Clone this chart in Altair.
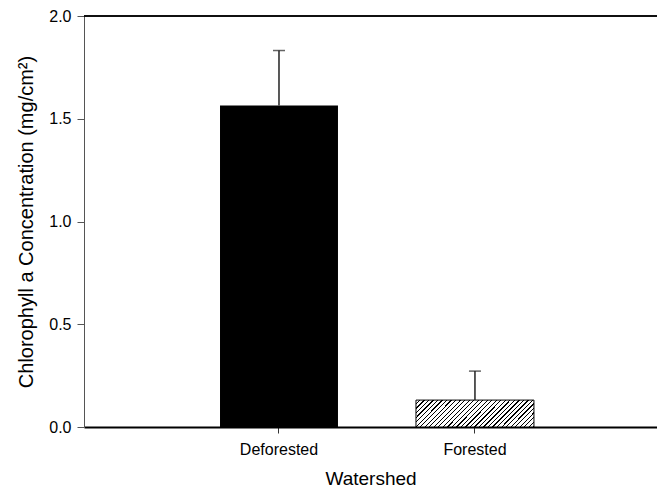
import altair as alt
import pandas as pd

categories = ["Deforested", "Forested"]
means = [1.565, 0.131]
errors = [0.267, 0.141]
y_ticks = [0.0, 0.5, 1.0, 1.5, 2.0]

df = pd.DataFrame({"Watershed": categories, "mean": means, "err": errors})
df["top"] = df["mean"] + df["err"]

# diagonal hatch for the Forested bar (style only)
N = 32
black_frac = 0.28
stops = []
for i in range(N):
    a = i / N
    b = (i + 1 - black_frac) / N
    c = (i + 1) / N
    stops += [
        alt.GradientStop(offset=a, color="white"),
        alt.GradientStop(offset=b, color="white"),
        alt.GradientStop(offset=b, color="black"),
        alt.GradientStop(offset=c, color="black"),
    ]
hatch = alt.Gradient(gradient="linear", stops=stops, x1=0, y1=0, x2=1.1665, y2=0.264)

FONT = "Liberation Sans"

xenc = alt.X(
    "Watershed:N",
    scale=alt.Scale(domain=categories, paddingInner=0.398, paddingOuter=0.661, align=0.525),
    axis=alt.Axis(
        title="Watershed", labelAngle=0, domainColor="black", domainWidth=2,
        tickColor="#333", tickSize=6, tickWidth=1, labelFontSize=16, labelPadding=8,
        titleFontSize=19, titlePadding=12, labelColor="black", titleColor="black",
        titleFontWeight="normal",
    ),
)
yscale = alt.Scale(domain=[0, 2], nice=False, zero=True)
yenc = alt.Y(
    "mean:Q",
    scale=yscale,
    axis=alt.Axis(
        title="Chlorophyll a Concentration (mg/cm²)", values=y_ticks, format=".1f",
        grid=False, domainColor="#555", tickColor="#555", tickSize=7, labelPadding=6,
        labelFontSize=16, titleFontSize=20, titlePadding=12, labelColor="black",
        titleColor="black", titleFontWeight="normal",
    ),
)

base = alt.Chart(df)

bar_def = base.transform_filter(alt.datum.Watershed == "Deforested").mark_bar(
    color="black"
).encode(x=xenc, y=yenc)

bar_for = base.transform_filter(alt.datum.Watershed == "Forested").mark_bar(
    fill=hatch, stroke="black", strokeWidth=1
).encode(x=xenc, y=yenc)

err_rule = base.mark_rule(color="#222", strokeWidth=1.5).encode(
    x=xenc, y=alt.Y("mean:Q", scale=yscale), y2="top:Q"
)
err_cap = base.mark_tick(color="#222", size=12, thickness=1.5).encode(
    x=xenc, y=alt.Y("top:Q", scale=yscale)
)
top_line = base.mark_rule(color="black", strokeWidth=1.5).encode(y=alt.datum(2.0))

chart = alt.layer(bar_def, bar_for, err_rule, err_cap, top_line).properties(
    width=573,
    height=411,
    autosize=alt.AutoSizeParams(type="none"),
    padding={"left": 76, "top": 8, "right": 0, "bottom": 75},
).configure(font=FONT).configure_view(stroke=None)

chart.save("out.html", embed_options={"renderer": "svg", "actions": False})
